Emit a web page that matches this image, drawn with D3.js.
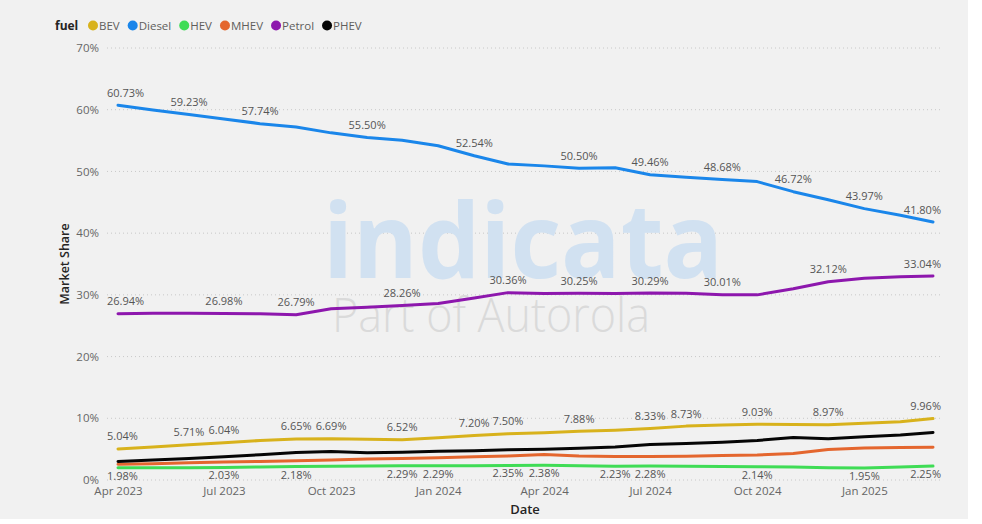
<!DOCTYPE html>
<html>
<head>
<meta charset="utf-8">
<script src="https://cdn.jsdelivr.net/npm/d3@7"></script>
<style>
  html, body { margin: 0; padding: 0; background: #ffffff; }
  svg { display: block; }
  text { font-family: "Open Sans", "DejaVu Sans", sans-serif; }
</style>
</head>
<body>
<svg id="chart" width="982" height="524"></svg>
<script>
// Monthly market share by fuel type, April 2023 – March 2025
const months = ["2023-04","2023-05","2023-06","2023-07","2023-08","2023-09","2023-10","2023-11","2023-12",
  "2024-01","2024-02","2024-03","2024-04","2024-05","2024-06","2024-07","2024-08","2024-09","2024-10","2024-11","2024-12",
  "2025-01","2025-02","2025-03"];

const fuels = ["BEV", "Diesel", "HEV", "MHEV", "Petrol", "PHEV"];

const bev    = [5.04, 5.35, 5.71, 6.04, 6.40, 6.65, 6.69, 6.60, 6.52, 6.85, 7.20, 7.50, 7.65, 7.88, 8.05, 8.33, 8.73, 8.90, 9.03, 9.00, 8.97, 9.20, 9.45, 9.96];
const diesel = [60.73, 59.95, 59.23, 58.50, 57.74, 57.20, 56.25, 55.50, 55.05, 54.15, 52.54, 51.20, 50.90, 50.50, 50.60, 49.46, 49.06, 48.68, 48.35, 46.72, 45.40, 43.97, 42.90, 41.80];
const hev    = [1.98, 2.00, 2.00, 2.03, 2.10, 2.18, 2.22, 2.25, 2.29, 2.29, 2.32, 2.35, 2.38, 2.30, 2.23, 2.28, 2.22, 2.18, 2.14, 2.10, 2.00, 1.95, 2.10, 2.25];
const mhev   = [2.55, 2.65, 2.80, 2.90, 3.00, 3.10, 3.25, 3.40, 3.50, 3.60, 3.75, 3.90, 4.15, 3.90, 3.80, 3.80, 3.85, 3.95, 4.05, 4.30, 4.95, 5.20, 5.25, 5.30];
const petrol = [26.94, 27.00, 27.00, 26.98, 26.95, 26.79, 27.75, 28.00, 28.26, 28.60, 29.50, 30.36, 30.20, 30.25, 30.20, 30.29, 30.25, 30.01, 30.00, 31.00, 32.12, 32.70, 32.95, 33.04];
const phev   = [3.00, 3.25, 3.50, 3.75, 4.10, 4.45, 4.60, 4.40, 4.50, 4.65, 4.75, 4.90, 5.00, 5.15, 5.35, 5.75, 5.90, 6.10, 6.40, 6.90, 6.70, 7.00, 7.30, 7.70];

// Months that carry a data label, per series
const bevLabelled    = ["2023-04","2023-06","2023-07","2023-09","2023-10","2023-12","2024-02","2024-03","2024-05","2024-07","2024-08","2024-10","2024-12","2025-03"];
const dieselLabelled = ["2023-04","2023-06","2023-08","2023-11","2024-02","2024-05","2024-07","2024-09","2024-11","2025-01","2025-03"];
const hevLabelled    = ["2023-04","2023-07","2023-09","2023-12","2024-01","2024-03","2024-04","2024-06","2024-07","2024-10","2025-01","2025-03"];
const petrolLabelled = ["2023-04","2023-07","2023-09","2023-12","2024-03","2024-05","2024-07","2024-09","2024-12","2025-03"];

const yTicks = [0, 10, 20, 30, 40, 50, 60, 70];
const xTicks = ["2023-04","2023-07","2023-10","2024-01","2024-04","2024-07","2024-10","2025-01"];

const colors = {
  BEV: "#d8b21c", Diesel: "#1a86ea", HEV: "#3fdc55", MHEV: "#e4662e", Petrol: "#8d17ad", PHEV: "#050505"
};

const seriesValues = { BEV: bev, Diesel: diesel, HEV: hev, MHEV: mhev, Petrol: petrol, PHEV: phev };
const labelled = { BEV: bevLabelled, Diesel: dieselLabelled, HEV: hevLabelled, Petrol: petrolLabelled };
const labelBelow = { HEV: true };

const parse = d3.timeParse("%Y-%m");
const dates = months.map(parse);

const svg = d3.select("#chart");

// panel background
svg.append("rect").attr("x", 0).attr("y", 0).attr("width", 968).attr("height", 519).attr("fill", "#f1f1f1");

const plot = { left: 107, right: 941, top: 48, bottom: 480 };

const x = d3.scaleTime().domain([dates[0], dates[dates.length - 1]]).range([118, 933]);
const y = d3.scaleLinear().domain([0, 70]).range([plot.bottom, plot.top]);

// gridlines
const grid = svg.append("g");
grid.selectAll("line").data(yTicks).join("line")
  .attr("x1", plot.left).attr("x2", plot.right)
  .attr("y1", d => y(d)).attr("y2", d => y(d))
  .attr("stroke", "#c8c8c8").attr("stroke-width", 1).attr("stroke-dasharray", "1,3");

// y axis labels
const yAxis = d3.axisLeft(y).tickValues(yTicks).tickFormat(d => d + "%").tickSize(0).tickPadding(0);
const gy = svg.append("g").attr("transform", "translate(99,0)").call(yAxis);
gy.select(".domain").remove();
gy.selectAll("text").attr("fill", "#666").attr("font-size", 11.5);

// x axis labels
const xAxis = d3.axisBottom(x).tickValues(xTicks.map(parse)).tickFormat(d3.timeFormat("%b %Y")).tickSize(0).tickPadding(0);
const gx = svg.append("g").attr("transform", "translate(0,487)").call(xAxis);
gx.select(".domain").remove();
gx.selectAll("text").attr("fill", "#666").attr("font-size", 11.5);

// axis titles
svg.append("text").attr("x", 525).attr("y", 514).attr("text-anchor", "middle")
  .attr("font-size", 13).attr("font-weight", 600).attr("fill", "#252423").text("Date");
svg.append("text").attr("transform", "translate(69,264) rotate(-90)").attr("text-anchor", "middle")
  .attr("font-size", 12.5).attr("font-weight", 600).attr("fill", "#252423").text("Market Share");

// watermark
svg.append("text").attr("x", 323).attr("y", 278).attr("textLength", 400).attr("lengthAdjust", "spacingAndGlyphs")
  .attr("font-family", "Lato, 'Open Sans', sans-serif").attr("font-weight", 700).attr("font-size", 104)
  .attr("fill", "#d1e1f1").text("indicata");
svg.append("text").attr("x", 332).attr("y", 332).attr("textLength", 318).attr("lengthAdjust", "spacingAndGlyphs")
  .attr("font-family", "Lato, 'Open Sans', sans-serif").attr("font-weight", 300).attr("font-size", 47)
  .attr("fill", "#dadada").text("Part of Autorola");

// legend
const legend = svg.append("g");
legend.append("text").attr("x", 55).attr("y", 29.5).attr("font-size", 12).attr("font-weight", 700)
  .attr("fill", "#252423").text("fuel");
let lx = 88;
fuels.forEach(f => {
  legend.append("circle").attr("cx", lx + 5).attr("cy", 25.5).attr("r", 5).attr("fill", colors[f]);
  const t = legend.append("text").attr("x", lx + 11).attr("y", 29.5).attr("font-size", 11.5)
    .attr("fill", "#605e5c").text(f);
  lx += 11 + t.node().getComputedTextLength() + 8;
});

// series lines
const line = d3.line().x((d, i) => x(dates[i])).y(d => y(d));
const drawOrder = ["Petrol", "Diesel", "HEV", "MHEV", "PHEV", "BEV"];
drawOrder.forEach(f => {
  svg.append("path").datum(seriesValues[f]).attr("d", line)
    .attr("fill", "none").attr("stroke", colors[f]).attr("stroke-width", 3)
    .attr("stroke-linejoin", "round").attr("stroke-linecap", "round");
});

// data labels
const fmt = v => v.toFixed(2) + "%";
Object.keys(labelled).forEach(f => {
  labelled[f].forEach(m => {
    const i = months.indexOf(m);
    const v = seriesValues[f][i];
    const t = svg.append("text").attr("font-size", 11).attr("fill", "#555")
      .attr("text-anchor", "middle").text(fmt(v));
    const w = t.node().getComputedTextLength();
    let cx = x(dates[i]);
    cx = Math.max(plot.left + w / 2, Math.min(plot.right - w / 2, cx));
    const cy = labelBelow[f] ? y(v) + 12 : y(v) - 8.5;
    t.attr("x", cx).attr("y", cy);
  });
});
</script>
</body>
</html>
